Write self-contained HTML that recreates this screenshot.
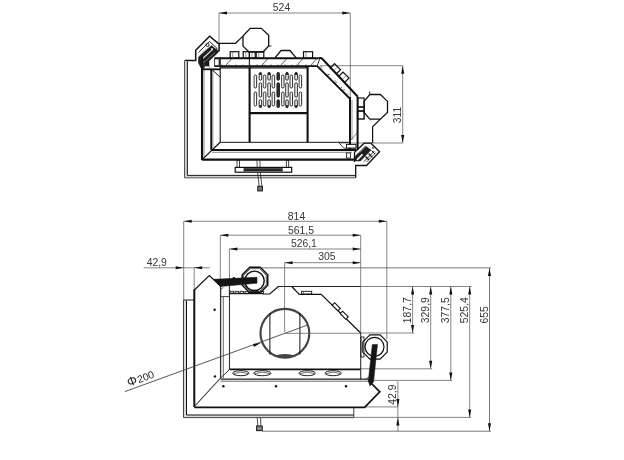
<!DOCTYPE html>
<html><head><meta charset="utf-8"><style>
html,body{margin:0;padding:0;background:#fff;}
svg{display:block;filter:grayscale(1);font-family:"Liberation Sans",sans-serif;}
</style></head><body>
<svg width="624" height="460" viewBox="0 0 624 460">
<rect width="624" height="460" fill="#fff"/>
<line x1="219" y1="13" x2="219" y2="44" stroke="#666" stroke-width="0.8"/>
<line x1="350.3" y1="13" x2="350.3" y2="98" stroke="#666" stroke-width="0.8"/>
<line x1="219" y1="13" x2="350.3" y2="13" stroke="#666" stroke-width="0.8"/>
<path d="M219,13 L227.00,11.45 L227.00,14.55 Z" fill="#111"/>
<path d="M350.3,13 L342.30,14.55 L342.30,11.45 Z" fill="#111"/>
<text x="281.5" y="11.3" font-size="10.4" text-anchor="middle" fill="#333" opacity="0.99">524</text>
<line x1="320" y1="65.7" x2="402.7" y2="65.7" stroke="#666" stroke-width="0.8"/>
<line x1="340" y1="143" x2="402.7" y2="143" stroke="#666" stroke-width="0.8"/>
<line x1="402.7" y1="65.7" x2="402.7" y2="143" stroke="#666" stroke-width="0.8"/>
<path d="M402.7,65.7 L404.25,73.70 L401.15,73.70 Z" fill="#111"/>
<path d="M402.7,143 L401.15,135.00 L404.25,135.00 Z" fill="#111"/>
<text x="400.9" y="123.2" font-size="10.4" text-anchor="start" fill="#333" opacity="0.99" transform="rotate(-90 400.9 123.2)">311</text>
<path d="M250.2,28.3 L261.3,28.3 L268.7,35.3 L268.7,46 L263,52 L249,52 L243,46.1 L243,36.1 Z" stroke="#111" stroke-width="1.3" fill="none" stroke-linejoin="miter"/>
<path d="M219,43.3 L235.5,43.3 L243,36.1" stroke="#111" stroke-width="1.2" fill="none" stroke-linejoin="miter"/>
<line x1="268.7" y1="46" x2="271.5" y2="46" stroke="#333" stroke-width="1"/>
<path d="M369.8,94.5 L380.4,94.5 L387.5,101.4 L387.5,112.4 L380.4,119.1 L369.8,119.1 L364.1,112.4 L364.1,101.4 Z" stroke="#111" stroke-width="1.3" fill="none" stroke-linejoin="miter"/>
<path d="M380.4,119.1 L372.6,126.8 L372.6,143" stroke="#111" stroke-width="1.2" fill="none" stroke-linejoin="miter"/>
<line x1="369.8" y1="94.5" x2="369.6" y2="91.5" stroke="#333" stroke-width="1"/>
<path d="M184.7,60.6 L195.7,60.6 L195.7,50.3 L209.6,36.2 L219.1,44.2 L219.1,50.7 L210.9,57.2" stroke="#111" stroke-width="1.5" fill="none" stroke-linejoin="miter"/>
<path d="M186,61.5 L186,176.6 L355,176.6" stroke="#d0d0d0" stroke-width="2.0" fill="none" stroke-linejoin="miter"/>
<path d="M184.5,60.6 L184.5,177.8 L355.7,177.8" stroke="#555" stroke-width="1.0" fill="none" stroke-linejoin="miter"/>
<path d="M355.7,177.8 L355.7,165.5 L366.5,165.5 L379.6,151.7 L370.9,143.2 L364.2,143.2 L354.5,152.3 L354.5,162" stroke="#111" stroke-width="1.3" fill="none" stroke-linejoin="miter"/>
<path d="M187.4,61.5 L187.4,175.4 L355.7,175.4" stroke="#1a1a1a" stroke-width="1.0" fill="none" stroke-linejoin="miter"/>
<path d="M198.5,52.5 L209.5,41.5 L216.8,48 L216.8,51" stroke="#111" stroke-width="0.9" fill="none" stroke-linejoin="miter"/>
<path d="M198.5,57 L211.5,45.5 L217.5,50.5 L217.5,53 L209,61 L209,68 L201,68 L198.5,63 Z" stroke="#111" stroke-width="0.5" fill="#1e1e1e" stroke-linejoin="miter"/>
<line x1="201" y1="60" x2="212.5" y2="49.5" stroke="#d8d8d8" stroke-width="1.1"/>
<line x1="202.5" y1="63.5" x2="215" y2="52.5" stroke="#999" stroke-width="0.7"/>
<line x1="199.5" y1="55" x2="206" y2="49" stroke="#aaa" stroke-width="0.6"/>
<circle cx="207.5" cy="45" r="1.6" stroke="#111" stroke-width="0.9" fill="none"/>
<circle cx="212" cy="49" r="1.0" stroke="#111" stroke-width="0" fill="#eee"/>
<rect x="204.6" y="66.3" width="4.3" height="3" rx="0" stroke="#111" stroke-width="0" fill="#fff"/>
<path d="M355,156.5 L365.5,146 L371,150 L360.5,161 L355.5,161 Z" stroke="#111" stroke-width="0.5" fill="#1e1e1e" stroke-linejoin="miter"/>
<line x1="357" y1="159.8" x2="362.5" y2="154.3" stroke="#f0f0f0" stroke-width="1.7"/>
<line x1="359.5" y1="152.5" x2="366" y2="146.5" stroke="#aaa" stroke-width="0.7"/>
<line x1="364" y1="161.5" x2="374.5" y2="151" stroke="#222" stroke-width="1.0"/>
<line x1="366.5" y1="162" x2="376" y2="152.5" stroke="#333" stroke-width="0.8"/>
<line x1="368.5" y1="153.5" x2="372" y2="157" stroke="#111" stroke-width="1.2"/>
<line x1="365.5" y1="156.5" x2="369" y2="160" stroke="#111" stroke-width="1.2"/>
<line x1="371.5" y1="150.5" x2="375" y2="154" stroke="#111" stroke-width="1.0"/>
<circle cx="373" cy="147.8" r="0.9" stroke="#111" stroke-width="0" fill="#222"/>
<line x1="369.5" y1="154.5" x2="372.5" y2="157.5" stroke="#222" stroke-width="0.8"/>
<line x1="202" y1="57" x2="202" y2="160" stroke="#111" stroke-width="2.1"/>
<line x1="204" y1="60" x2="204" y2="157" stroke="#555" stroke-width="0.7"/>
<line x1="211.3" y1="69" x2="211.3" y2="150" stroke="#111" stroke-width="2.0"/>
<line x1="213" y1="70" x2="213" y2="148" stroke="#777" stroke-width="0.6"/>
<line x1="220.2" y1="57" x2="220.2" y2="142.3" stroke="#111" stroke-width="1.1"/>
<line x1="203" y1="69.3" x2="220.2" y2="69.3" stroke="#111" stroke-width="1.8"/>
<line x1="212.2" y1="69.8" x2="220.2" y2="77.2" stroke="#111" stroke-width="1.0"/>
<line x1="202" y1="159.6" x2="356" y2="159.6" stroke="#111" stroke-width="2.1"/>
<line x1="211.3" y1="149.9" x2="356" y2="149.9" stroke="#111" stroke-width="2.0"/>
<line x1="212" y1="152.3" x2="352" y2="152.3" stroke="#555" stroke-width="0.7"/>
<line x1="220.2" y1="142.3" x2="350" y2="142.3" stroke="#111" stroke-width="1.0"/>
<line x1="202" y1="159.6" x2="220.2" y2="142.3" stroke="#111" stroke-width="1.2"/>
<path d="M214.6,58.3 L318.5,58.3" stroke="#111" stroke-width="2.0" fill="none" stroke-linejoin="miter"/>
<path d="M318.5,58.3 Q321,57.3 322.5,59 L357.6,96.5" stroke="#111" stroke-width="2" fill="none"/>
<path d="M214.6,66.2 L317.2,66.2 L349.8,98.5" stroke="#111" stroke-width="1.8" fill="none" stroke-linejoin="miter"/>
<line x1="317.2" y1="66.2" x2="319.6" y2="59" stroke="#333" stroke-width="1.0"/>
<line x1="214.6" y1="58" x2="214.6" y2="66.5" stroke="#333" stroke-width="1.0"/>
<line x1="219.3" y1="58" x2="219.3" y2="66.5" stroke="#333" stroke-width="1.4"/>
<line x1="249.4" y1="58" x2="249.4" y2="67" stroke="#333" stroke-width="1.2"/>
<circle cx="222" cy="65" r="0.55" stroke="#111" stroke-width="0" fill="#222"/>
<circle cx="229" cy="65" r="0.55" stroke="#111" stroke-width="0" fill="#222"/>
<circle cx="236" cy="65" r="0.55" stroke="#111" stroke-width="0" fill="#222"/>
<circle cx="243" cy="65" r="0.55" stroke="#111" stroke-width="0" fill="#222"/>
<circle cx="250" cy="65" r="0.55" stroke="#111" stroke-width="0" fill="#222"/>
<circle cx="257" cy="65" r="0.55" stroke="#111" stroke-width="0" fill="#222"/>
<circle cx="264" cy="65" r="0.55" stroke="#111" stroke-width="0" fill="#222"/>
<circle cx="271" cy="65" r="0.55" stroke="#111" stroke-width="0" fill="#222"/>
<circle cx="278" cy="65" r="0.55" stroke="#111" stroke-width="0" fill="#222"/>
<circle cx="285" cy="65" r="0.55" stroke="#111" stroke-width="0" fill="#222"/>
<circle cx="292" cy="65" r="0.55" stroke="#111" stroke-width="0" fill="#222"/>
<circle cx="299" cy="65" r="0.55" stroke="#111" stroke-width="0" fill="#222"/>
<circle cx="306" cy="65" r="0.55" stroke="#111" stroke-width="0" fill="#222"/>
<circle cx="313" cy="65" r="0.55" stroke="#111" stroke-width="0" fill="#222"/>
<line x1="225" y1="66" x2="232" y2="58.5" stroke="#333" stroke-width="0.8"/>
<line x1="261" y1="66" x2="268" y2="58.5" stroke="#333" stroke-width="0.8"/>
<line x1="280" y1="66" x2="287" y2="58.5" stroke="#333" stroke-width="0.8"/>
<line x1="296" y1="66" x2="303" y2="58.5" stroke="#333" stroke-width="0.8"/>
<line x1="310" y1="66" x2="317" y2="58.5" stroke="#333" stroke-width="0.8"/>
<line x1="220.2" y1="67.8" x2="307.6" y2="67.8" stroke="#111" stroke-width="1.2"/>
<line x1="318.52" y1="67.14" x2="321.82" y2="66.94" stroke="#444" stroke-width="0.7"/>
<line x1="326.34" y1="74.78" x2="329.64" y2="74.58" stroke="#444" stroke-width="0.7"/>
<line x1="334.16" y1="82.42" x2="337.46000000000004" y2="82.22" stroke="#444" stroke-width="0.7"/>
<line x1="341.98" y1="90.06" x2="345.28000000000003" y2="89.86" stroke="#444" stroke-width="0.7"/>
<circle cx="321.96" cy="67.93" r="0.5" stroke="#111" stroke-width="0" fill="#333"/>
<circle cx="328.48" cy="74.39" r="0.5" stroke="#111" stroke-width="0" fill="#333"/>
<circle cx="335.0" cy="80.85" r="0.5" stroke="#111" stroke-width="0" fill="#333"/>
<circle cx="341.52" cy="87.31" r="0.5" stroke="#111" stroke-width="0" fill="#333"/>
<circle cx="348.04" cy="93.77" r="0.5" stroke="#111" stroke-width="0" fill="#333"/>
<line x1="350" y1="97" x2="350" y2="150" stroke="#111" stroke-width="2.0"/>
<line x1="357.6" y1="96.5" x2="357.6" y2="150" stroke="#111" stroke-width="2.0"/>
<line x1="352" y1="100" x2="352" y2="140" stroke="#555" stroke-width="0.6"/>
<line x1="350" y1="141" x2="357" y2="133" stroke="#444" stroke-width="0.7"/>
<path d="M338.5,142.3 L343.8,148.2 L356,148.2" stroke="#111" stroke-width="0.8" fill="none" stroke-linejoin="miter"/>
<rect x="346.4" y="144.4" width="9.6" height="3.6" rx="0" stroke="#111" stroke-width="0.9" fill="#fff"/>
<rect x="346.5" y="153" width="4" height="5" rx="0" stroke="#111" stroke-width="0.8" fill="none"/>
<rect x="230.2" y="51.7" width="8.600000000000023" height="6.4" rx="0" stroke="#111" stroke-width="1.2" fill="none"/>
<line x1="232.7" y1="52" x2="232.7" y2="58" stroke="#555" stroke-width="0.6"/>
<rect x="243.2" y="51.7" width="6.200000000000017" height="6.4" rx="0" stroke="#111" stroke-width="1.2" fill="none"/>
<line x1="245.7" y1="52" x2="245.7" y2="58" stroke="#555" stroke-width="0.6"/>
<rect x="249.4" y="51.7" width="5.799999999999983" height="6.4" rx="0" stroke="#111" stroke-width="1.2" fill="none"/>
<line x1="251.9" y1="52" x2="251.9" y2="58" stroke="#555" stroke-width="0.6"/>
<rect x="256.2" y="51.7" width="7.600000000000023" height="6.4" rx="0" stroke="#111" stroke-width="1.2" fill="none"/>
<line x1="258.7" y1="52" x2="258.7" y2="58" stroke="#555" stroke-width="0.6"/>
<rect x="303.5" y="51.7" width="9.100000000000023" height="6.4" rx="0" stroke="#111" stroke-width="1.2" fill="none"/>
<line x1="306.0" y1="52" x2="306.0" y2="58" stroke="#555" stroke-width="0.6"/>
<path d="M274.6,58.3 L281,50.5 L290,50.5 L296.5,58.3" stroke="#111" stroke-width="1.3" fill="none" stroke-linejoin="miter"/>
<rect x="331.15" y="65.8" width="8.5" height="6" stroke="#111" stroke-width="1.2" fill="none" transform="rotate(45 335.4 68.8)"/>
<rect x="339.65" y="74.2" width="8.5" height="6" stroke="#111" stroke-width="1.2" fill="none" transform="rotate(45 343.9 77.2)"/>
<line x1="333.5" y1="71" x2="337.5" y2="67" stroke="#555" stroke-width="0.6"/>
<line x1="342" y1="79.5" x2="346" y2="75.5" stroke="#555" stroke-width="0.6"/>
<rect x="357.6" y="98" width="6.5" height="9" rx="0" stroke="#111" stroke-width="1.2" fill="none"/>
<rect x="357.6" y="107" width="6.5" height="4" rx="0" stroke="#111" stroke-width="1.2" fill="none"/>
<rect x="357.6" y="111" width="6.5" height="8" rx="0" stroke="#111" stroke-width="1.4" fill="none"/>
<line x1="249.6" y1="67" x2="249.6" y2="142.3" stroke="#111" stroke-width="2.1"/>
<line x1="307.6" y1="67" x2="307.6" y2="142.3" stroke="#111" stroke-width="2.1"/>
<line x1="249.6" y1="113.2" x2="307.6" y2="113.2" stroke="#111" stroke-width="2.2"/>
<rect x="254.15" y="75" width="2.5" height="13" rx="1.25" stroke="#111" stroke-width="0.9" fill="none"/>
<line x1="254.5" y1="76.5" x2="254.5" y2="86.5" stroke="#999" stroke-width="0.6"/>
<rect x="254.15" y="92" width="2.5" height="14" rx="1.25" stroke="#111" stroke-width="0.9" fill="none"/>
<line x1="254.5" y1="93.5" x2="254.5" y2="104.5" stroke="#999" stroke-width="0.6"/>
<rect x="259.15" y="72.4" width="2.5" height="7.799999999999997" rx="1.25" stroke="#111" stroke-width="0.9" fill="none"/>
<circle cx="260.4" cy="73.9" r="1.2" stroke="#111" stroke-width="0" fill="#222"/>
<rect x="259.15" y="82.8" width="2.5" height="14.400000000000006" rx="1.25" stroke="#111" stroke-width="0.9" fill="none"/>
<rect x="259.15" y="99.8" width="2.5" height="7.799999999999997" rx="1.25" stroke="#111" stroke-width="0.9" fill="none"/>
<circle cx="260.4" cy="106.1" r="1.2" stroke="#111" stroke-width="0" fill="#222"/>
<rect x="263.35" y="75" width="2.5" height="13" rx="1.25" stroke="#111" stroke-width="0.9" fill="none"/>
<line x1="263.70000000000005" y1="76.5" x2="263.70000000000005" y2="86.5" stroke="#999" stroke-width="0.6"/>
<rect x="263.35" y="92" width="2.5" height="14" rx="1.25" stroke="#111" stroke-width="0.9" fill="none"/>
<line x1="263.70000000000005" y1="93.5" x2="263.70000000000005" y2="104.5" stroke="#999" stroke-width="0.6"/>
<rect x="267.85" y="72.4" width="2.5" height="7.799999999999997" rx="1.25" stroke="#111" stroke-width="0.9" fill="none"/>
<circle cx="269.1" cy="73.9" r="1.2" stroke="#111" stroke-width="0" fill="#222"/>
<rect x="267.85" y="82.8" width="2.5" height="14.400000000000006" rx="1.25" stroke="#111" stroke-width="0.9" fill="none"/>
<rect x="267.85" y="99.8" width="2.5" height="7.799999999999997" rx="1.25" stroke="#111" stroke-width="0.9" fill="none"/>
<circle cx="269.1" cy="106.1" r="1.2" stroke="#111" stroke-width="0" fill="#222"/>
<rect x="272.15" y="75" width="2.5" height="13" rx="1.25" stroke="#111" stroke-width="0.9" fill="none"/>
<line x1="272.5" y1="76.5" x2="272.5" y2="86.5" stroke="#999" stroke-width="0.6"/>
<rect x="272.15" y="92" width="2.5" height="14" rx="1.25" stroke="#111" stroke-width="0.9" fill="none"/>
<line x1="272.5" y1="93.5" x2="272.5" y2="104.5" stroke="#999" stroke-width="0.6"/>
<rect x="276.95" y="72.4" width="2.5" height="7.799999999999997" rx="1.25" stroke="#111" stroke-width="0.9" fill="#333"/>
<rect x="276.95" y="82.8" width="2.5" height="14.400000000000006" rx="1.25" stroke="#111" stroke-width="0.9" fill="#333"/>
<rect x="276.95" y="99.8" width="2.5" height="7.799999999999997" rx="1.25" stroke="#111" stroke-width="0.9" fill="#333"/>
<rect x="281.55" y="75" width="2.5" height="13" rx="1.25" stroke="#111" stroke-width="0.9" fill="none"/>
<line x1="281.90000000000003" y1="76.5" x2="281.90000000000003" y2="86.5" stroke="#999" stroke-width="0.6"/>
<rect x="281.55" y="92" width="2.5" height="14" rx="1.25" stroke="#111" stroke-width="0.9" fill="none"/>
<line x1="281.90000000000003" y1="93.5" x2="281.90000000000003" y2="104.5" stroke="#999" stroke-width="0.6"/>
<rect x="285.75" y="72.4" width="2.5" height="7.799999999999997" rx="1.25" stroke="#111" stroke-width="0.9" fill="none"/>
<circle cx="287" cy="73.9" r="1.2" stroke="#111" stroke-width="0" fill="#222"/>
<rect x="285.75" y="82.8" width="2.5" height="14.400000000000006" rx="1.25" stroke="#111" stroke-width="0.9" fill="none"/>
<rect x="285.75" y="99.8" width="2.5" height="7.799999999999997" rx="1.25" stroke="#111" stroke-width="0.9" fill="none"/>
<circle cx="287" cy="106.1" r="1.2" stroke="#111" stroke-width="0" fill="#222"/>
<rect x="290.05" y="75" width="2.5" height="13" rx="1.25" stroke="#111" stroke-width="0.9" fill="none"/>
<line x1="290.40000000000003" y1="76.5" x2="290.40000000000003" y2="86.5" stroke="#999" stroke-width="0.6"/>
<rect x="290.05" y="92" width="2.5" height="14" rx="1.25" stroke="#111" stroke-width="0.9" fill="none"/>
<line x1="290.40000000000003" y1="93.5" x2="290.40000000000003" y2="104.5" stroke="#999" stroke-width="0.6"/>
<rect x="294.85" y="72.4" width="2.5" height="7.799999999999997" rx="1.25" stroke="#111" stroke-width="0.9" fill="none"/>
<circle cx="296.1" cy="73.9" r="1.2" stroke="#111" stroke-width="0" fill="#222"/>
<rect x="294.85" y="82.8" width="2.5" height="14.400000000000006" rx="1.25" stroke="#111" stroke-width="0.9" fill="none"/>
<rect x="294.85" y="99.8" width="2.5" height="7.799999999999997" rx="1.25" stroke="#111" stroke-width="0.9" fill="none"/>
<circle cx="296.1" cy="106.1" r="1.2" stroke="#111" stroke-width="0" fill="#222"/>
<rect x="299.15" y="75" width="2.5" height="13" rx="1.25" stroke="#111" stroke-width="0.9" fill="none"/>
<line x1="299.5" y1="76.5" x2="299.5" y2="86.5" stroke="#999" stroke-width="0.6"/>
<rect x="299.15" y="92" width="2.5" height="14" rx="1.25" stroke="#111" stroke-width="0.9" fill="none"/>
<line x1="299.5" y1="93.5" x2="299.5" y2="104.5" stroke="#999" stroke-width="0.6"/>
<rect x="237" y="160.6" width="2.4" height="6.8" rx="0" stroke="#111" stroke-width="0.8" fill="none"/>
<rect x="286.3" y="160.6" width="2.4" height="6.8" rx="0" stroke="#111" stroke-width="0.8" fill="none"/>
<path d="M256.9,160.5 L257.6,172.2 L259.2,186.5" stroke="#222" stroke-width="0.8" fill="none" stroke-linejoin="miter"/>
<path d="M259.9,160.5 L260.3,172.2 L261.9,186.5" stroke="#222" stroke-width="0.8" fill="none" stroke-linejoin="miter"/>
<rect x="257.8" y="186.3" width="4.6" height="4.6" rx="0" stroke="#222" stroke-width="1.1" fill="#777"/>
<rect x="235.2" y="167.4" width="56.5" height="4.8" rx="0" stroke="#111" stroke-width="1.2" fill="#fff"/>
<rect x="243.6" y="168.2" width="39.1" height="3.2" rx="0" stroke="#111" stroke-width="0" fill="#1a1a1a"/>
<line x1="245" y1="168.4" x2="245" y2="171.2" stroke="#666" stroke-width="0.4"/>
<line x1="247" y1="168.4" x2="247" y2="171.2" stroke="#666" stroke-width="0.4"/>
<line x1="249" y1="168.4" x2="249" y2="171.2" stroke="#666" stroke-width="0.4"/>
<line x1="251" y1="168.4" x2="251" y2="171.2" stroke="#666" stroke-width="0.4"/>
<line x1="253" y1="168.4" x2="253" y2="171.2" stroke="#666" stroke-width="0.4"/>
<line x1="255" y1="168.4" x2="255" y2="171.2" stroke="#666" stroke-width="0.4"/>
<line x1="257" y1="168.4" x2="257" y2="171.2" stroke="#666" stroke-width="0.4"/>
<line x1="259" y1="168.4" x2="259" y2="171.2" stroke="#666" stroke-width="0.4"/>
<line x1="261" y1="168.4" x2="261" y2="171.2" stroke="#666" stroke-width="0.4"/>
<line x1="263" y1="168.4" x2="263" y2="171.2" stroke="#666" stroke-width="0.4"/>
<line x1="265" y1="168.4" x2="265" y2="171.2" stroke="#666" stroke-width="0.4"/>
<line x1="267" y1="168.4" x2="267" y2="171.2" stroke="#666" stroke-width="0.4"/>
<line x1="269" y1="168.4" x2="269" y2="171.2" stroke="#666" stroke-width="0.4"/>
<line x1="271" y1="168.4" x2="271" y2="171.2" stroke="#666" stroke-width="0.4"/>
<line x1="273" y1="168.4" x2="273" y2="171.2" stroke="#666" stroke-width="0.4"/>
<line x1="275" y1="168.4" x2="275" y2="171.2" stroke="#666" stroke-width="0.4"/>
<line x1="277" y1="168.4" x2="277" y2="171.2" stroke="#666" stroke-width="0.4"/>
<line x1="279" y1="168.4" x2="279" y2="171.2" stroke="#666" stroke-width="0.4"/>
<line x1="281" y1="168.4" x2="281" y2="171.2" stroke="#666" stroke-width="0.4"/>
<line x1="183.7" y1="221.3" x2="183.7" y2="300" stroke="#666" stroke-width="0.8"/>
<line x1="386.8" y1="221.3" x2="386.8" y2="339" stroke="#666" stroke-width="0.8"/>
<line x1="183.7" y1="221.3" x2="386.8" y2="221.3" stroke="#666" stroke-width="0.8"/>
<path d="M183.7,221.3 L191.70,219.75 L191.70,222.85 Z" fill="#111"/>
<path d="M386.8,221.3 L378.80,222.85 L378.80,219.75 Z" fill="#111"/>
<text x="296.5" y="219.7" font-size="10.4" text-anchor="middle" fill="#333" opacity="0.99">814</text>
<line x1="220.3" y1="235.2" x2="220.3" y2="288" stroke="#666" stroke-width="0.8"/>
<line x1="360.7" y1="235.2" x2="360.7" y2="380" stroke="#666" stroke-width="0.8"/>
<line x1="220.3" y1="235.2" x2="360.7" y2="235.2" stroke="#666" stroke-width="0.8"/>
<path d="M220.3,235.2 L228.30,233.65 L228.30,236.75 Z" fill="#111"/>
<path d="M360.7,235.2 L352.70,236.75 L352.70,233.65 Z" fill="#111"/>
<text x="301" y="233.5" font-size="10.4" text-anchor="middle" fill="#333" opacity="0.99">561,5</text>
<line x1="229.4" y1="249.0" x2="229.4" y2="296" stroke="#666" stroke-width="0.8"/>
<line x1="229.4" y1="249.0" x2="360.7" y2="249.0" stroke="#666" stroke-width="0.8"/>
<path d="M229.4,249.0 L237.40,247.45 L237.40,250.55 Z" fill="#111"/>
<path d="M360.7,249.0 L352.70,250.55 L352.70,247.45 Z" fill="#111"/>
<text x="303.9" y="246.9" font-size="10.4" text-anchor="middle" fill="#333" opacity="0.99">526,1</text>
<line x1="284.6" y1="262.7" x2="284.6" y2="332" stroke="#666" stroke-width="0.8"/>
<line x1="284.6" y1="262.7" x2="360.7" y2="262.7" stroke="#666" stroke-width="0.8"/>
<path d="M284.6,262.7 L292.60,261.15 L292.60,264.25 Z" fill="#111"/>
<path d="M360.7,262.7 L352.70,264.25 L352.70,261.15 Z" fill="#111"/>
<text x="326.8" y="260.3" font-size="10.4" text-anchor="middle" fill="#333" opacity="0.99">305</text>
<line x1="143.6" y1="267.8" x2="209.8" y2="267.8" stroke="#666" stroke-width="0.8"/>
<path d="M183.7,267.8 L175.70,269.35 L175.70,266.25 Z" fill="#111"/>
<path d="M194.2,267.8 L202.20,266.25 L202.20,269.35 Z" fill="#111"/>
<line x1="194.2" y1="267.8" x2="194.2" y2="290" stroke="#666" stroke-width="0.8"/>
<text x="156.8" y="265.7" font-size="10.4" text-anchor="middle" fill="#333" opacity="0.99">42,9</text>
<line x1="262" y1="267.9" x2="491" y2="267.9" stroke="#666" stroke-width="0.9"/>
<line x1="489.5" y1="267.9" x2="489.5" y2="431.2" stroke="#666" stroke-width="0.9"/>
<path d="M489.5,267.9 L491.05,275.90 L487.95,275.90 Z" fill="#111"/>
<path d="M489.5,431.2 L487.95,423.20 L491.05,423.20 Z" fill="#111"/>
<text x="488" y="323.5" font-size="10.4" text-anchor="start" fill="#333" opacity="0.99" transform="rotate(-90 488 323.5)">655</text>
<line x1="278" y1="286.5" x2="360.7" y2="286.5" stroke="#222" stroke-width="1.0"/>
<line x1="360.7" y1="286.5" x2="471.5" y2="286.5" stroke="#666" stroke-width="0.8"/>
<line x1="412.6" y1="286.5" x2="412.6" y2="333" stroke="#666" stroke-width="0.8"/>
<path d="M412.6,286.5 L414.15,294.50 L411.05,294.50 Z" fill="#111"/>
<path d="M412.6,333 L411.05,325.00 L414.15,325.00 Z" fill="#111"/>
<text x="411" y="323.2" font-size="10.4" text-anchor="start" fill="#333" opacity="0.99" transform="rotate(-90 411 323.2)">187,7</text>
<line x1="430.7" y1="286.5" x2="430.7" y2="368.8" stroke="#666" stroke-width="0.8"/>
<path d="M430.7,286.5 L432.25,294.50 L429.15,294.50 Z" fill="#111"/>
<path d="M430.7,368.8 L429.15,360.80 L432.25,360.80 Z" fill="#111"/>
<text x="429" y="323.2" font-size="10.4" text-anchor="start" fill="#333" opacity="0.99" transform="rotate(-90 429 323.2)">329,9</text>
<line x1="450.8" y1="286.5" x2="450.8" y2="380.4" stroke="#666" stroke-width="0.8"/>
<path d="M450.8,286.5 L452.35,294.50 L449.25,294.50 Z" fill="#111"/>
<path d="M450.8,380.4 L449.25,372.40 L452.35,372.40 Z" fill="#111"/>
<text x="448.7" y="323.2" font-size="10.4" text-anchor="start" fill="#333" opacity="0.99" transform="rotate(-90 448.7 323.2)">377,5</text>
<line x1="469.7" y1="286.5" x2="469.7" y2="417.4" stroke="#666" stroke-width="0.8"/>
<path d="M469.7,286.5 L471.25,294.50 L468.15,294.50 Z" fill="#111"/>
<path d="M469.7,417.4 L468.15,409.40 L471.25,409.40 Z" fill="#111"/>
<text x="468.4" y="323.2" font-size="10.4" text-anchor="start" fill="#333" opacity="0.99" transform="rotate(-90 468.4 323.2)">525,4</text>
<line x1="360" y1="333" x2="414" y2="333" stroke="#666" stroke-width="0.8"/>
<line x1="360" y1="368.8" x2="432.2" y2="368.8" stroke="#666" stroke-width="0.8"/>
<line x1="368" y1="380.4" x2="452.3" y2="380.4" stroke="#666" stroke-width="0.8"/>
<line x1="354" y1="417.4" x2="471.2" y2="417.4" stroke="#666" stroke-width="0.8"/>
<line x1="262" y1="431.2" x2="491" y2="431.2" stroke="#666" stroke-width="0.9"/>
<line x1="365" y1="406.9" x2="398" y2="406.9" stroke="#666" stroke-width="0.8"/>
<line x1="397.9" y1="381.3" x2="397.9" y2="431" stroke="#666" stroke-width="0.8"/>
<path d="M397.9,406.9 L396.35,398.90 L399.45,398.90 Z" fill="#111"/>
<path d="M397.9,417.4 L399.45,425.40 L396.35,425.40 Z" fill="#111"/>
<text x="396.3" y="404.7" font-size="10.4" text-anchor="start" fill="#333" opacity="0.99" transform="rotate(-90 396.3 404.7)">42,9</text>
<path d="M185,300.5 L185,416.3 L353.8,416.3" stroke="#dadada" stroke-width="2.0" fill="none" stroke-linejoin="miter"/>
<path d="M183.5,300 L183.5,417.6 L353.8,417.6 L353.8,407.4" stroke="#444" stroke-width="1.0" fill="none" stroke-linejoin="miter"/>
<path d="M186.5,300.5 L186.5,415 L353.8,415" stroke="#111" stroke-width="1.0" fill="none" stroke-linejoin="miter"/>
<line x1="183.5" y1="300" x2="194" y2="300" stroke="#333" stroke-width="1.1"/>
<path d="M194.3,290 L209.3,275.5 L220.4,286" stroke="#111" stroke-width="1.1" fill="none" stroke-linejoin="miter"/>
<line x1="194.3" y1="289.5" x2="194.3" y2="407" stroke="#111" stroke-width="2.0"/>
<path d="M194.3,407.3 L364.6,407.3 L379.8,391.8 L368.5,380.5" stroke="#111" stroke-width="1.7" fill="none" stroke-linejoin="miter"/>
<line x1="194.4" y1="406.5" x2="220.6" y2="378" stroke="#333" stroke-width="1.1"/>
<line x1="220.6" y1="286" x2="220.6" y2="378" stroke="#333" stroke-width="1.3"/>
<line x1="223.3" y1="296.6" x2="223.3" y2="378.7" stroke="#444" stroke-width="0.8"/>
<line x1="229.5" y1="286" x2="229.5" y2="369.4" stroke="#333" stroke-width="1.1"/>
<line x1="220.6" y1="289.4" x2="223.3" y2="287.5" stroke="#333" stroke-width="0.8"/>
<line x1="220.6" y1="296.6" x2="229.5" y2="296.6" stroke="#333" stroke-width="0.9"/>
<line x1="229.6" y1="369.4" x2="360.7" y2="369.4" stroke="#111" stroke-width="1.8"/>
<line x1="229.6" y1="369.4" x2="220.6" y2="378" stroke="#333" stroke-width="1.0"/>
<line x1="220.6" y1="379.2" x2="368.5" y2="379.2" stroke="#222" stroke-width="1.3"/>
<line x1="220.6" y1="381.2" x2="368.5" y2="381.2" stroke="#444" stroke-width="0.8"/>
<line x1="360.7" y1="333" x2="360.7" y2="380" stroke="#333" stroke-width="0.9"/>
<ellipse cx="240.85" cy="373.2" rx="8.150000000000006" ry="2.5" stroke="#222" stroke-width="1.0" fill="none"/>
<path d="M233.7,373.6 Q240.85,370.6 248,373.6" stroke="#333" stroke-width="0.7" fill="none"/>
<ellipse cx="262.4" cy="373.2" rx="8.599999999999994" ry="2.5" stroke="#222" stroke-width="1.0" fill="none"/>
<path d="M254.8,373.6 Q262.4,370.6 270,373.6" stroke="#333" stroke-width="0.7" fill="none"/>
<ellipse cx="307.2" cy="373.2" rx="8.199999999999989" ry="2.5" stroke="#222" stroke-width="1.0" fill="none"/>
<path d="M300,373.6 Q307.2,370.6 314.4,373.6" stroke="#333" stroke-width="0.7" fill="none"/>
<ellipse cx="333.15" cy="373.2" rx="8.150000000000006" ry="2.5" stroke="#222" stroke-width="1.0" fill="none"/>
<path d="M326,373.6 Q333.15,370.6 340.3,373.6" stroke="#333" stroke-width="0.7" fill="none"/>
<circle cx="214.9" cy="376.4" r="1.2" stroke="#111" stroke-width="0" fill="#111"/>
<circle cx="223.4" cy="386.3" r="1.2" stroke="#111" stroke-width="0" fill="#111"/>
<circle cx="276" cy="386.3" r="1.2" stroke="#111" stroke-width="0" fill="#111"/>
<circle cx="346" cy="386.3" r="1.2" stroke="#111" stroke-width="0" fill="#111"/>
<circle cx="214.6" cy="309.8" r="1.2" stroke="#111" stroke-width="0" fill="#111"/>
<path d="M263,294 L269.7,294 L278.4,286.5" stroke="#111" stroke-width="1.1" fill="none" stroke-linejoin="miter"/>
<path d="M291.8,286.5 L299.2,294.3 L321.2,294.3 L360.7,333" stroke="#111" stroke-width="1.2" fill="none" stroke-linejoin="miter"/>
<line x1="229.8" y1="293.5" x2="263.5" y2="293.5" stroke="#333" stroke-width="1.5"/>
<rect x="230" y="291.3" width="3.5" height="2.2" rx="0" stroke="#111" stroke-width="0.8" fill="none"/>
<rect x="235" y="291.3" width="3.5" height="2.2" rx="0" stroke="#111" stroke-width="0.8" fill="none"/>
<rect x="240" y="291.3" width="3.5" height="2.2" rx="0" stroke="#111" stroke-width="0.8" fill="none"/>
<rect x="245" y="291.3" width="3.5" height="2.2" rx="0" stroke="#111" stroke-width="0.8" fill="none"/>
<rect x="250" y="291.3" width="3.5" height="2.2" rx="0" stroke="#111" stroke-width="0.8" fill="none"/>
<rect x="255" y="291.3" width="3.5" height="2.2" rx="0" stroke="#111" stroke-width="0.8" fill="none"/>
<rect x="260" y="291.3" width="3.5" height="2.2" rx="0" stroke="#111" stroke-width="0.8" fill="none"/>
<rect x="301.6" y="291.3" width="10.1" height="2.8" rx="0" stroke="#111" stroke-width="0.9" fill="none"/>
<rect x="332.3" y="305.1" width="8" height="3.4" stroke="#111" stroke-width="1.1" fill="#fff" transform="rotate(45 336.3 306.8)"/>
<rect x="340.2" y="313.5" width="8" height="3.4" stroke="#111" stroke-width="1.1" fill="#fff" transform="rotate(45 344.2 315.2)"/>
<line x1="303.5" y1="291.3" x2="303.5" y2="294.1" stroke="#333" stroke-width="0.6"/>
<circle cx="284.9" cy="333.2" r="24.4" stroke="#444" stroke-width="2.2" fill="none"/>
<line x1="269.9" y1="313" x2="269.9" y2="354.6" stroke="#111" stroke-width="1.0"/>
<line x1="299.9" y1="313" x2="299.9" y2="354.6" stroke="#111" stroke-width="1.0"/>
<path d="M274,356 Q284.9,352 296,356 Q284.9,359 274,356 Z" fill="#444"/>
<line x1="284.9" y1="333.3" x2="360.7" y2="333.3" stroke="#666" stroke-width="0.8"/>
<line x1="124.9" y1="391.6" x2="306.9" y2="325.3" stroke="#444" stroke-width="0.9"/>
<path d="M261.0,342.8 L254.01,346.99 L252.95,344.08 Z" fill="#111"/>
<text x="128.8" y="386.8" font-size="10.4" fill="#222" transform="rotate(-20.1 128.8 386.8)"><tspan font-size="12.5">Φ</tspan><tspan dx="0.6">200</tspan></text>
<path d="M267.7,285.26 L260.26,292.7 L249.74,292.7 L242.3,285.26 L242.3,274.74 L249.74,267.3 L260.26,267.3 L267.7,274.74 Z" stroke="#111" stroke-width="1.6" fill="none" stroke-linejoin="miter"/>
<path d="M266.3,284.68 L259.68,291.3 L250.32,291.3 L243.7,284.68 L243.7,275.32 L250.32,268.7 L259.68,268.7 L266.3,275.32 Z" stroke="#111" stroke-width="0.7" fill="none" stroke-linejoin="miter"/>
<circle cx="254.5" cy="280.8" r="9.7" stroke="#111" stroke-width="1.4" fill="none"/>
<path d="M213.4,279.3 L257,277.3 L257,283.2 L220.6,286.5 Z" stroke="#111" stroke-width="0.5" fill="#151515" stroke-linejoin="miter"/>
<circle cx="233.9" cy="278.6" r="1.5" stroke="#111" stroke-width="0" fill="#111"/>
<path d="M387.2,352.05 L380.05,359.2 L369.95,359.2 L362.8,352.05 L362.8,341.95 L369.95,334.8 L380.05,334.8 L387.2,341.95 Z" stroke="#111" stroke-width="1.2" fill="none" stroke-linejoin="miter"/>
<circle cx="374.5" cy="346.8" r="9.5" stroke="#111" stroke-width="1.2" fill="none"/>
<path d="M372.3,344.5 L377.5,344.5 L373.5,382 L370,386 L368.3,381 Z" stroke="#111" stroke-width="0.5" fill="#151515" stroke-linejoin="miter"/>
<line x1="365" y1="380" x2="370" y2="376" stroke="#333" stroke-width="0.9"/>
<rect x="361" y="337" width="3" height="20" rx="0" stroke="#111" stroke-width="0.8" fill="none"/>
<line x1="257.2" y1="417.5" x2="257.8" y2="426" stroke="#222" stroke-width="0.8"/>
<line x1="260.6" y1="417.5" x2="260.8" y2="426" stroke="#222" stroke-width="0.8"/>
<rect x="256.6" y="426" width="5.6" height="4.6" rx="0" stroke="#222" stroke-width="1.1" fill="#888"/>
</svg></body></html>
